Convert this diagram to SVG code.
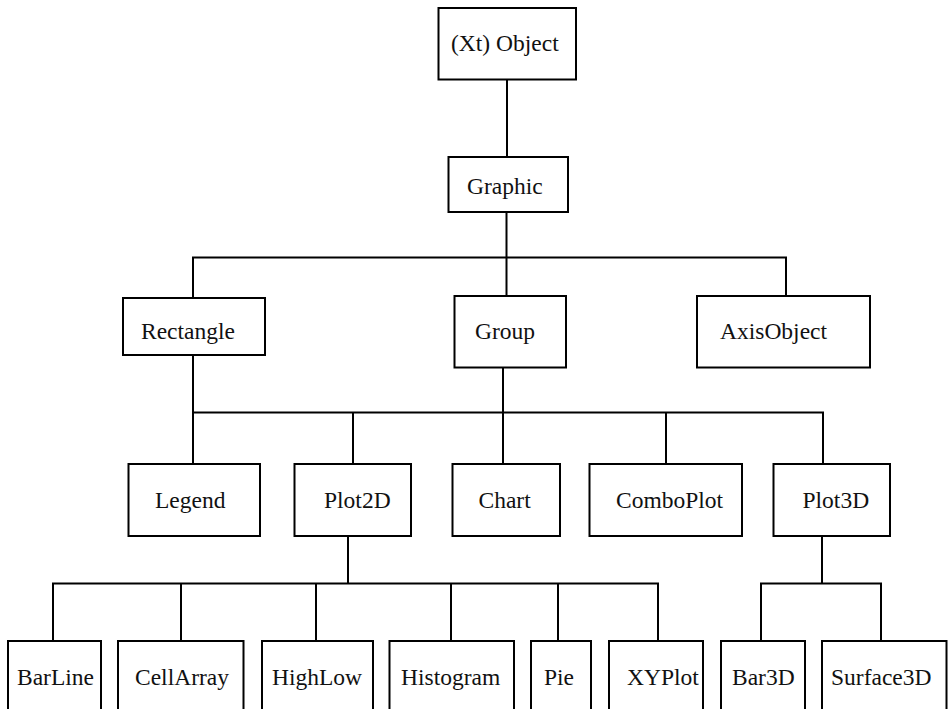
<svg xmlns="http://www.w3.org/2000/svg" width="948" height="709" viewBox="0 0 948 709">
<style>
.n rect{fill:#fff;stroke:#000;stroke-width:2}
.n text{font-family:"Liberation Serif","Times New Roman",serif;font-size:23.5px;fill:#111}
#connectors path{fill:none;stroke:#000;stroke-width:2}
</style>
<rect width="948" height="709" fill="#fff"/>
<g id="connectors">
<path d="M507 79.5V157"/>
<path d="M506.5 212V296"/>
<path d="M193 298V257.5H786V296"/>
<path d="M193 355V464"/>
<path d="M503 367.5V464"/>
<path d="M193 412.5H823V464"/>
<path d="M353 412.5V464"/>
<path d="M666 412.5V464"/>
<path d="M348 536V583.5"/>
<path d="M53 641V583.5H658V641"/>
<path d="M181 583.5V641"/>
<path d="M316 583.5V641"/>
<path d="M451 583.5V641"/>
<path d="M558 583.5V641"/>
<path d="M822 536V583.5"/>
<path d="M761 641V583.5H881V641"/>
</g>
<g id="object" class="n"><rect x="438.5" y="8" width="137.5" height="71.5"/><text x="451" y="50.5">(Xt) Object</text></g>
<g id="graphic" class="n"><rect x="448.5" y="157" width="119.5" height="55"/><text x="467" y="194">Graphic</text></g>
<g id="rectangle" class="n"><rect x="123" y="298" width="142" height="57"/><text x="141" y="339">Rectangle</text></g>
<g id="group" class="n"><rect x="454.5" y="296" width="111.5" height="71.5"/><text x="475" y="339">Group</text></g>
<g id="axisobject" class="n"><rect x="697" y="296" width="173" height="71.5"/><text x="720" y="339">AxisObject</text></g>
<g id="legend" class="n"><rect x="128.5" y="464" width="131.5" height="72"/><text x="155" y="508">Legend</text></g>
<g id="plot2d" class="n"><rect x="294.5" y="464" width="116.5" height="72"/><text x="324" y="508">Plot2D</text></g>
<g id="chart" class="n"><rect x="452.5" y="464" width="107.5" height="72"/><text x="478.5" y="508">Chart</text></g>
<g id="comboplot" class="n"><rect x="589.5" y="464" width="152.5" height="72"/><text x="616" y="508">ComboPlot</text></g>
<g id="plot3d" class="n"><rect x="773.5" y="464" width="116.5" height="72"/><text x="802.5" y="508">Plot3D</text></g>
<g id="barline" class="n"><rect x="8" y="641" width="93" height="80"/><text x="17" y="685">BarLine</text></g>
<g id="cellarray" class="n"><rect x="118" y="641" width="125.5" height="80"/><text x="135" y="685">CellArray</text></g>
<g id="highlow" class="n"><rect x="262" y="641" width="111" height="80"/><text x="272" y="685">HighLow</text></g>
<g id="histogram" class="n"><rect x="389.5" y="641" width="124.5" height="80"/><text x="401" y="685">Histogram</text></g>
<g id="pie" class="n"><rect x="531" y="641" width="60" height="80"/><text x="544" y="685">Pie</text></g>
<g id="xyplot" class="n"><rect x="609" y="641" width="94" height="80"/><text x="627" y="685">XYPlot</text></g>
<g id="bar3d" class="n"><rect x="721" y="641" width="84" height="80"/><text x="732" y="685">Bar3D</text></g>
<g id="surface3d" class="n"><rect x="822" y="641" width="124.5" height="80"/><text x="831" y="685">Surface3D</text></g>
</svg>
